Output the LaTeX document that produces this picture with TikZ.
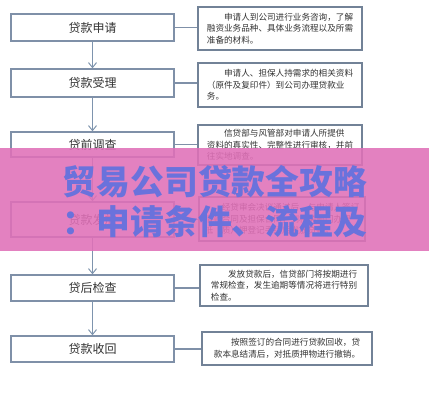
\documentclass[tikz,border=0pt]{standalone}
\usepackage{fontspec}
\newfontfamily\cjk{Noto Sans CJK SC}
\usetikzlibrary{arrows.meta,calc}
\definecolor{boxline}{HTML}{7F90A8}
\definecolor{arrowc}{HTML}{7E94AE}
\definecolor{txt}{HTML}{333333}
\definecolor{bandc}{HTML}{E070B8}
\definecolor{titlec}{HTML}{6A72DC}
\tikzset{
  stagebox/.style={draw=boxline, line width=1.3pt, fill=white, minimum width=163pt, inner sep=0pt, font=\cjk\fontsize{12}{14}\selectfont, text=txt},
  notebox/.style={draw=boxline!90!black, line width=1.2pt, fill=white, inner sep=0pt, align=left, font=\cjk\fontsize{8.6}{11.7}\selectfont, text=txt},
  flow/.style={draw=arrowc, line width=1.2pt, -{Straight Barb[length=5pt,width=8pt,line width=1pt]}},
  link/.style={draw=boxline, line width=1.2pt},
  titletext/.style={font=\cjk\bfseries\fontsize{33.8}{36}\selectfont, text=titlec, inner sep=0pt}
}
\begin{document}
\begin{tikzpicture}[x=1pt,y=-1pt]
\useasboundingbox (0,0) rectangle (429,400);
\fill[white] (0,0) rectangle (429,400);
% left stages
\node[stagebox, minimum height=27pt] (L1) at (92.5,27.5) {贷款申请};
\node[stagebox, minimum height=28pt] (L2) at (92.5,83) {贷款受理};
\node[stagebox, minimum height=25pt] (L3) at (92.5,144.5) {贷前调查};
\node[stagebox, minimum height=35pt] (L4) at (92.5,219.5) {贷款发放};
\node[stagebox, minimum height=26pt] (L5) at (92.5,288) {贷后检查};
\node[stagebox, minimum height=26pt] (L6) at (92.5,349) {贷款收回};
% right notes
\node[notebox, minimum width=164pt, minimum height=43pt] (R1) at (280,28.5)
 {\hspace*{2em}申请人到公司进行业务咨询，了解\\融资业务品种、具体业务流程以及所需\\准备的材料。};
\node[notebox, minimum width=164pt, minimum height=44pt] (R2) at (280,85)
 {\hspace*{2em}申请人、担保人持需求的相关资料\\（原件及复印件）到公司办理贷款业\\务。};
\node[notebox, minimum width=164pt, minimum height=40pt] (R3) at (280,145)
 {\hspace*{2em}信贷部与风管部对申请人所提供\\资料的真实性、完整性进行审核，并前\\往实地调查。};
\node[notebox, minimum width=166pt, minimum height=44pt] (R4) at (282,219)
 {\hspace*{2em}经贷审会决议通过后，与申请人签订\\借款合同及担保合同，到相关部门办理\\抵（质）押登记手续后发放贷款。};
\node[notebox, minimum width=168pt, minimum height=41pt] (R5) at (284,285.5)
 {\hspace*{2em}发放贷款后，信贷部门将按期进行\\常规检查，发生逾期等情况将进行特别\\检查。};
\node[notebox, minimum width=170pt, minimum height=33pt] (R6) at (287,348.5)
 {\hspace*{2em}按照签订的合同进行贷款回收，贷\\款本息结清后，对抵质押物进行撤销。};
% flow arrows
\draw[flow] (L1.south) -- (L2.north);
\draw[flow] (L2.south) -- (L3.north);
\draw[flow] (L3.south) -- (L4.north);
\draw[flow] (L4.south) -- (L5.north);
\draw[flow] (L5.south) -- (L6.north);
% links
\draw[link] (L1.east) -- (L1.east -| R1.west);
\draw[link] (L2.east) -- (L2.east -| R2.west);
\draw[link] (L3.east) -- (L3.east -| R3.west);
\draw[link] (L4.east) -- (L4.east -| R4.west);
\draw[link] (L5.east) -- (L5.east -| R5.west);
\draw[link] (L6.east) -- (L6.east -| R6.west);
% overlay band
\fill[bandc, opacity=0.88] (0,148) rectangle (429,251);
\node[titletext] (T1) at (215,182) {贸易公司贷款全攻略};
\node[titletext] (T2) at (215,222) {：申请条件、流程及};
\end{tikzpicture}
\end{document}
